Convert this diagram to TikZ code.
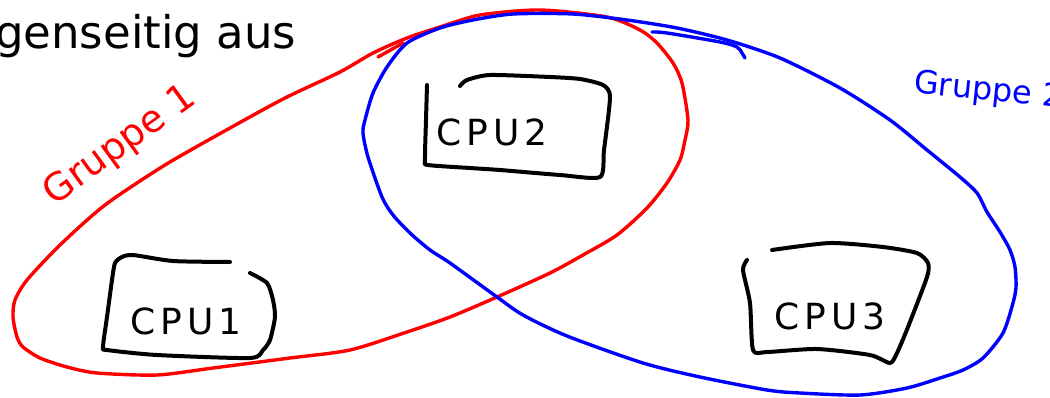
\documentclass[tikz,border=0pt]{standalone}
\usepackage{fontspec}
\setmainfont{DejaVu Sans}
\newfontfamily\handfont[LetterSpace=14]{DejaVu Sans}
\newfontfamily\grpfont{DejaVu Sans}
\definecolor{penred}{RGB}{255,0,0}
\definecolor{penblue}{RGB}{0,0,255}
\begin{document}
\begin{tikzpicture}[x=1pt,y=-1pt,
  redpen/.style={draw=penred,line width=3.4pt,line join=round,line cap=round},
  bluepen/.style={draw=penblue,line width=3.4pt,line join=round,line cap=round},
  boxpen/.style={draw=black,line width=4pt,line join=round,line cap=round},
  cpulabel/.style={font=\handfont\fontsize{36}{40}\selectfont,inner sep=0pt},
  grplabel/.style={inner sep=0pt}]
\useasboundingbox (0,0) rectangle (1050,397);
% header text
\node[anchor=base west,inner sep=0pt,font=\fontsize{45}{50}\selectfont] (head) at (-5,48) {genseitig aus};
% red group
\draw[redpen] plot[smooth cycle,tension=0.45] coordinates {
 (540,10) (607,17) (640,30) (657,43) (673,63) (682,83) (688,120) (685,140)
 (680,160) (667,183) (647,208) (617,235) (583,255) (550,273) (497,297)
 (450,317) (407,332) (350,350) (290,358) (213,368) (157,375) (97,373)
 (67,367) (40,358) (23,347) (17,337) (13,317) (15,300) (27,280) (60,245)
 (105,205) (165,165) (230,128) (285,98) (340,72) (373,53) (407,38) (440,27) (480,15)};
\draw[redpen] (378,57) -- (403,43);
% blue group
\draw[bluepen] plot[smooth cycle,tension=0.45] coordinates {
 (365,120) (373,93) (387,67) (407,43) (440,28) (473,20) (513,14) (573,14)
 (627,20) (677,28) (727,40) (780,58) (840,88) (890,120) (927,150) (960,177)
 (977,193) (987,212) (1000,232) (1010,250) (1015,267) (1016,287) (1013,303)
 (1003,333) (983,358) (963,370) (940,378) (907,388) (860,395) (800,393)
 (767,390) (700,377) (643,363) (567,336) (523,315) (497,297) (450,263)
 (430,250) (410,233) (393,215) (382,197) (368,157) (363,133)};
\draw[bluepen] plot[smooth,tension=0.5] coordinates {(652,32) (667,33) (720,42) (737,47) (742,53) (745,58)};
% CPU boxes
\draw[boxpen] plot[smooth,tension=0.4] coordinates {
 (230,262) (173,261) (133,255) (122,257) (115,263) (112,280) (107,317) (103,347)
 (107,350) (157,355) (250,358) (263,350) (270,340) (275,317) (273,300) (267,283) (250,273)};
\draw[boxpen] plot[smooth,tension=0.4] coordinates {
 (427,85) (426,120) (425,160) (428,165) (470,168) (500,170) (560,175) (600,177)
 (604,150) (610,97) (603,85) (580,79) (550,77) (490,75) (467,80) (460,86)};
\draw[boxpen] plot[smooth,tension=0.4] coordinates {
 (747,260) (743,270) (750,303) (753,350) (767,352) (817,349) (870,355) (890,363)
 (897,353) (908,327) (927,277) (928,263) (917,253) (883,247) (830,243) (772,250)};
\node[cpulabel] (cpu1) at (186,321) {CPU1};
\node[cpulabel] (cpu2) at (492,132) {CPU2};
\node[cpulabel] (cpu3) at (830,316) {CPU3};
% group labels
\node[grplabel,text=penred,rotate=36,font=\grpfont\fontsize{38}{40}\selectfont] (g1) at (120,146) {Gruppe 1};
\node[grplabel,text=penblue,rotate=-6,anchor=west,font=\grpfont\fontsize{32}{36}\selectfont] (g2) at (914,84) {Gruppe 2};
\end{tikzpicture}
\end{document}
